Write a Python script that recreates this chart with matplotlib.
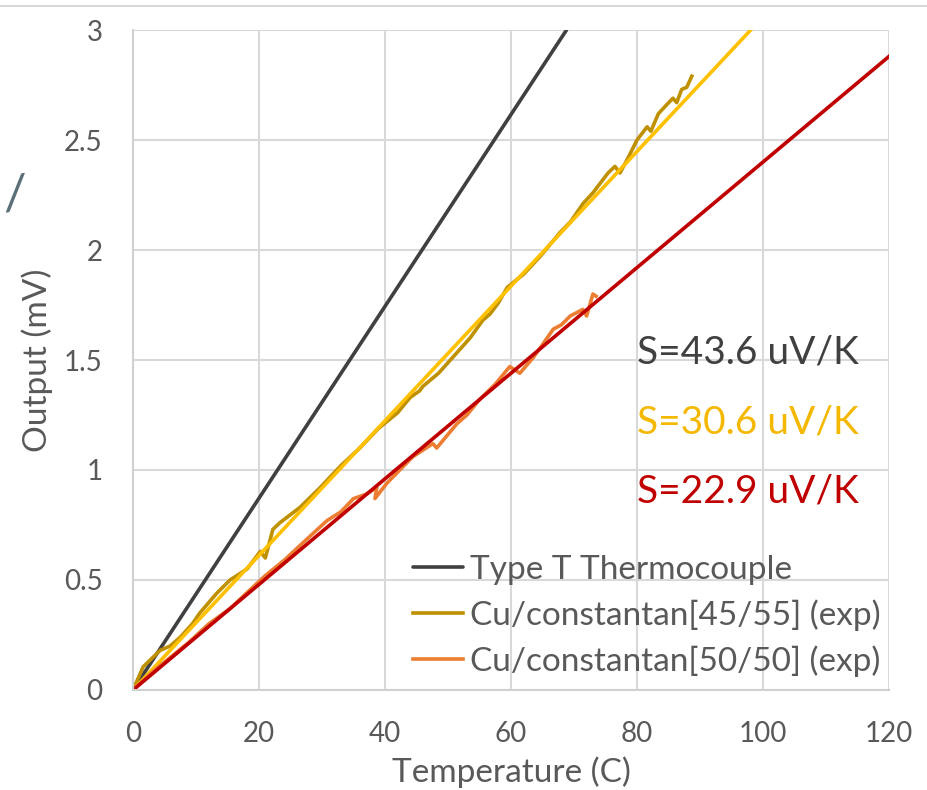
import matplotlib
matplotlib.use("Agg")
import matplotlib.pyplot as plt
from matplotlib.lines import Line2D
import numpy as np

plt.rcParams['font.family'] = ['Lato', 'DejaVu Sans']

# fitted / reference slopes (mV per C)
slope_typeT = 0.0436
slope_4555 = 0.0306
slope_5050 = 0.0240
x_typeT = [0, 68.8]
x_fit4555 = [0, 98]
x_fit5050 = [0, 120]

# experimental trace Cu/constantan[45/55]
t_4555 = [0, 1.6, 4.3, 5.9, 7.5, 9.4, 10.6, 13.3, 15.4, 18.1, 20.2, 21.0, 22.2, 23.3, 26.5,
          29.7, 33.0, 36.0, 39.0, 42.0, 44.0, 45.5, 46.0, 48.5, 51.0, 53.5, 55.5, 56.7,
          58.0, 59.4, 62.0, 64.6, 67.8, 69.5, 71.4, 73.0, 75.4, 76.5, 77.3, 78.6, 80.0,
          81.6, 82.2, 83.4, 84.7, 85.7, 86.3, 87.1, 87.9, 88.7]
v_4555 = [0, 0.105, 0.18, 0.2, 0.24, 0.30, 0.35, 0.44, 0.5, 0.55, 0.63, 0.60, 0.73, 0.76, 0.83,
          0.92, 1.02, 1.10, 1.19, 1.26, 1.33, 1.36, 1.38, 1.44, 1.52, 1.60, 1.68, 1.71,
          1.76, 1.83, 1.89, 1.97, 2.08, 2.13, 2.21, 2.26, 2.35, 2.38, 2.35, 2.42, 2.50,
          2.56, 2.54, 2.62, 2.66, 2.69, 2.67, 2.73, 2.74, 2.79]

# experimental trace Cu/constantan[50/50]
t_5050 = [0, 3.0, 6.0, 9.0, 12.0, 15.4, 18.0, 21.0, 24.0, 27.0, 30.8, 33.0, 35.0, 37.0,
          38.7, 38.4, 40.3, 42.0, 44.4, 46.0, 47.6, 48.2, 51.4, 53.0, 55.0, 57.5, 59.8,
          61.4, 63.5, 65.0, 66.7, 68.0, 69.4, 71.4, 72.0, 73.0, 73.5]
v_5050 = [0, 0.08, 0.15, 0.22, 0.30, 0.37, 0.44, 0.52, 0.59, 0.67, 0.77, 0.81, 0.87, 0.89,
          0.92, 0.87, 0.94, 0.99, 1.06, 1.09, 1.12, 1.10, 1.21, 1.25, 1.32, 1.39, 1.47,
          1.44, 1.51, 1.57, 1.64, 1.66, 1.70, 1.73, 1.70, 1.80, 1.79]

s_labels = ['S=43.6 uV/K', 'S=30.6 uV/K', 'S=22.9 uV/K']
s_colors = ['#404040', '#f5b800', '#c00000']

fig = plt.figure(figsize=(9.27, 7.9), dpi=100)
ax = fig.add_axes([0.1435, 0.1266, 0.8155, 0.8354])

ax.plot(x_typeT, np.array(x_typeT) * slope_typeT, color='#404040', lw=2.6,
        label='Type T Thermocouple', solid_capstyle='round')
ax.plot(t_4555, v_4555, color='#bf9000', lw=2.6, label='Cu/constantan[45/55] (exp)')
ax.plot(x_fit4555, np.array(x_fit4555) * slope_4555, color='#ffc000', lw=2.6)
ax.plot(t_5050, v_5050, color='#ed7d31', lw=2.6, label='Cu/constantan[50/50] (exp)')
ax.plot(x_fit5050, np.array(x_fit5050) * slope_5050, color='#c00000', lw=2.6)

ax.set_xlim(0, 120)
ax.set_ylim(0, 3)
ax.set_xticks(range(0, 121, 20))
ax.set_yticks([0, 0.5, 1, 1.5, 2, 2.5, 3])
ax.set_yticklabels(['0', '0.5', '1', '1.5', '2', '2.5', '3'])
ax.grid(True, color='#d9d9d9', lw=1.5)
ax.set_axisbelow(True)
for side in ['top', 'right']:
    ax.spines[side].set_visible(False)
for side in ['left', 'bottom']:
    ax.spines[side].set_color('#d0d0d0')
    ax.spines[side].set_linewidth(1.5)
ax.tick_params(axis='x', length=0, labelsize=20, colors='#595959', pad=22)
ax.tick_params(axis='y', length=0, labelsize=20, colors='#595959', pad=22)
ax.set_xlabel('Temperature (C)', fontsize=24, color='#595959', labelpad=7)
ax.set_ylabel('Output (mV)', fontsize=24, color='#595959', labelpad=8)

for i, (lab, col) in enumerate(zip(s_labels, s_colors)):
    ax.text(80, 1.535 - i * 0.317, lab, color=col, fontsize=28, va='center', ha='left')

leg = ax.legend(loc='lower left', bbox_to_anchor=(0.370, 0.02), fontsize=24,
                frameon=False, handlelength=1.5, handletextpad=0.21, labelspacing=0.43,
                borderaxespad=0.0, borderpad=0.0)
for txt in leg.get_texts():
    txt.set_color('#595959')

# stray glyph and top border seen in the source image
fig.text(0.004, 0.735, '/', fontsize=36, color='#5b7079')
fig.add_artist(Line2D([0, 1], [0.992, 0.992], color='#d0d0d0', lw=1.2))

fig.savefig('out.png', dpi=100)
